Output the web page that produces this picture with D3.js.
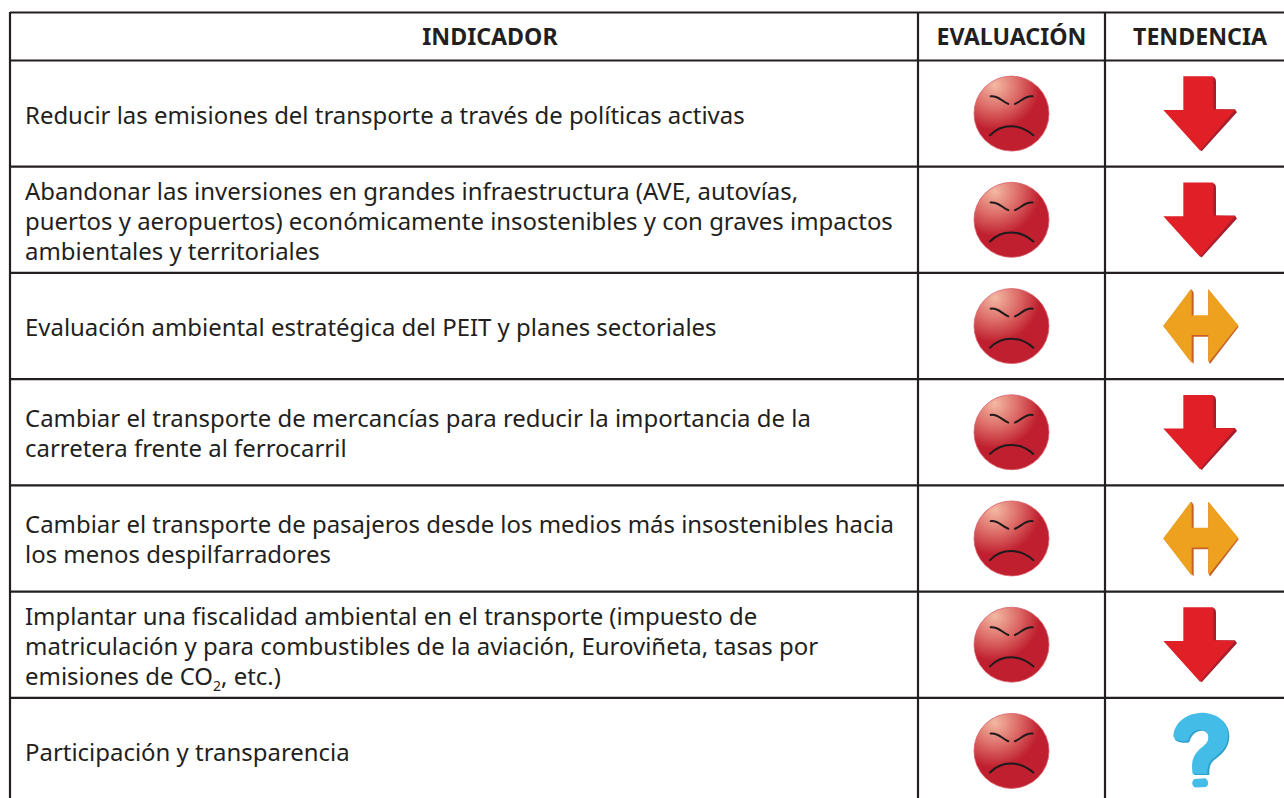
<!DOCTYPE html>
<html>
<head>
<meta charset="utf-8">
<script src="https://cdn.jsdelivr.net/npm/d3@7"></script>
<style>
  html, body { margin: 0; background: #fff; }
  svg { display: block; }
  text { font-family: "Noto Sans", sans-serif; fill: #231f20; }
</style>
</head>
<body>
<svg id="chart"></svg>
<script>
const headers = ["INDICADOR", "EVALUACIÓN", "TENDENCIA"];
const indicators = [
  ["Reducir las emisiones del transporte a través de políticas activas"],
  ["Abandonar las inversiones en grandes infraestructura (AVE, autovías,",
   "puertos y aeropuertos) económicamente insostenibles y con graves impactos",
   "ambientales y territoriales"],
  ["Evaluación ambiental estratégica del PEIT y planes sectoriales"],
  ["Cambiar el transporte de mercancías para reducir la importancia de la",
   "carretera frente al ferrocarril"],
  ["Cambiar el transporte de pasajeros desde los medios más insostenibles hacia",
   "los menos despilfarradores"],
  ["Implantar una fiscalidad ambiental en el transporte (impuesto de",
   "matriculación y para combustibles de la aviación, Euroviñeta, tasas por",
   "emisiones de CO2, etc.)"],
  ["Participación y transparencia"],
];
const evaluations = ["bad", "bad", "bad", "bad", "bad", "bad", "bad"];
const trends = ["down", "down", "flat", "down", "flat", "down", "unknown"];

const width = 1284;
const height = 798;
const lineColor = "#231f20";

const svg = d3.select("#chart").attr("width", width).attr("height", height);

const rowIds = d3.range(indicators.length);
const y = d3.scaleBand().domain(rowIds).range([60.5, 804]);
const colLeft = d3.scaleOrdinal().domain(headers).range([10, 918, 1105]);
const colMid = d3.scaleOrdinal().domain(headers).range([490, 1011.5, 1200]);

// gradient for the faces
const defs = svg.append("defs");
const grad = defs.append("radialGradient")
  .attr("id", "face")
  .attr("cx", 0.28).attr("cy", 0.12).attr("r", 0.8);
grad.append("stop").attr("offset", "0%").attr("stop-color", "#f3b8a2");
grad.append("stop").attr("offset", "40%").attr("stop-color", "#dc6a66");
grad.append("stop").attr("offset", "75%").attr("stop-color", "#bf1f2e");
grad.append("stop").attr("offset", "100%").attr("stop-color", "#bf1f2e");

// grid
const grid = svg.append("g")
  .attr("stroke", lineColor)
  .attr("stroke-width", 2.2)
  .attr("fill", "none");
grid.append("line").attr("x1", 10).attr("x2", width).attr("y1", 12.5).attr("y2", 12.5);
grid.selectAll(".row-line")
  .data(rowIds)
  .join("line")
  .attr("class", "row-line")
  .attr("x1", 10).attr("x2", width)
  .attr("y1", d => y(d)).attr("y2", d => y(d));
grid.selectAll(".col-line")
  .data(headers)
  .join("line")
  .attr("class", "col-line")
  .attr("x1", d => colLeft(d)).attr("x2", d => colLeft(d))
  .attr("y1", 12).attr("y2", height);

svg.selectAll(".header")
  .data(headers)
  .join("text")
  .attr("class", "header")
  .attr("x", d => colMid(d))
  .attr("y", 44.5)
  .attr("text-anchor", "middle")
  .attr("font-size", 23.2)
  .attr("font-weight", 700)
  .text(d => d);

// indicator labels
const lineGap = 30;
const rows = svg.selectAll(".row").data(rowIds).join("g").attr("class", "row");
const labels = rows.append("text").attr("font-size", 23.95);
labels.each(function (d) {
  const lines = indicators[d];
  const mid = y(d) + y.bandwidth() / 2;
  const first = mid + 10 - ((lines.length - 1) * lineGap) / 2;
  lines.forEach((line, i) => {
    const parts = line.split("CO2");
    d3.select(this).append("tspan").attr("x", 25).attr("y", first + i * lineGap).text(parts[0]);
    if (parts.length > 1) {
      d3.select(this).append("tspan").text("CO");
      d3.select(this).append("tspan").attr("font-size", 14).attr("dy", 6).text("2");
      d3.select(this).append("tspan").attr("dy", -6).text(parts[1]);
    }
  });
});

// faces, drawn in a 300 box taken around the icon
const faces = rows.append("g")
  .attr("transform", d => `translate(${colMid("EVALUACIÓN")},${y(d) + y.bandwidth() / 2})`);
faces.append("circle")
  .attr("r", 37.5)
  .attr("fill", "url(#face)")
  .attr("stroke", "#d9606c")
  .attr("stroke-width", 0.8);
const faceInk = faces.append("g")
  .attr("transform", "translate(-51.5,-53) scale(0.3333)")
  .attr("fill", "none")
  .attr("stroke", "#1f1a1c")
  .attr("stroke-width", 6)
  .attr("stroke-linecap", "round");
faceInk.append("path").attr("d", "M92,107 C115,104 125,122 145,130");
faceInk.append("path").attr("d", "M218,107 C195,104 185,122 165,130");
faceInk.append("path").attr("d", "M90,224 C125,188 180,188 220,224");

// trend icons
const icons = {
  down: {
    dy: -53,
    shapes: [
      { d: "M103,50 L193,50 Q198,55 198,62 L198,146 L255,146 L261,155 L155,272 L150,268 Z", fill: "#a81e2d" },
      { d: "M100,47 L190,47 L190,146 L255,148 L150,270 L40,148 L100,148 Z", fill: "#e01f26" },
    ],
  },
  flat: {
    dy: -46,
    shapes: [
      { d: "M125,28 L131,38 L131,108 L175,108 L175,28 L266,140 L180,252 L175,242 L175,170 L131,170 L131,252 L40,138 Z", fill: "#c4622a" },
      { d: "M122,28 L125,34 L125,106 L175,106 L175,28 L265,136 L178,245 L175,240 L175,165 L125,165 L125,250 L40,138 Z", fill: "#eea01f" },
    ],
  },
  unknown: {
    dy: -52,
    shapes: [
      { d: "M150,44 C200,42 238,70 238,112 C238,150 212,168 192,184 C180,194 178,206 178,228 L132,228 C126,190 132,170 160,148 C178,134 180,126 178,112 C172,90 130,85 118,130 C100,134 80,130 74,120 Z", fill: "#2f9fca" },
      { d: "M150,42 C198,40 234,68 234,108 C234,148 208,164 188,180 C176,190 172,204 172,225 L128,225 C122,186 130,166 156,145 C174,131 176,123 174,109 C168,87 126,82 114,125 C100,130 76,126 70,112 C72,72 108,44 150,42 Z M134,240 L166,238 C176,244 178,258 168,264 L136,266 C124,262 124,246 134,240 Z", fill: "#44bce8" },
    ],
  },
};
const trendIcons = rows.append("g")
  .attr("transform", d => `translate(${colMid("TENDENCIA")},${y(d) + y.bandwidth() / 2}) translate(-50,${icons[trends[d]].dy}) scale(0.3333)`);
trendIcons.selectAll("path")
  .data(d => icons[trends[d]].shapes)
  .join("path")
  .attr("d", d => d.d)
  .attr("fill", d => d.fill);
</script>
</body>
</html>
